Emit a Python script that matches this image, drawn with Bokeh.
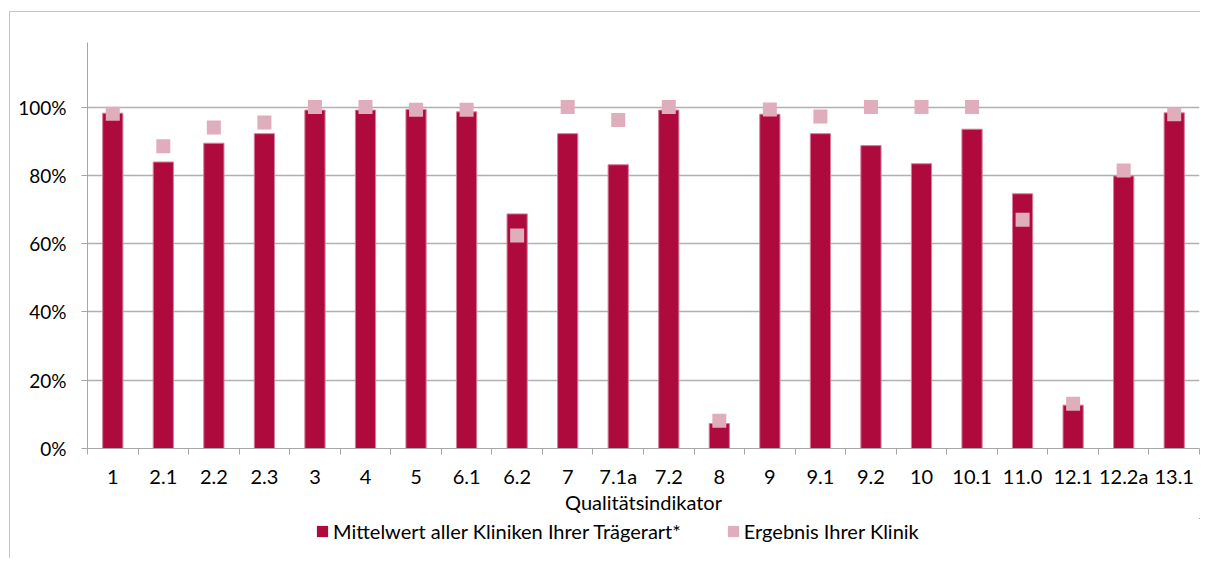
from bokeh.plotting import figure
from bokeh.layouts import column
from bokeh.models import (ColumnDataSource, Range1d, FixedTicker, NumeralTickFormatter,
                          Legend, LegendItem)
from bokeh.embed import file_html
from bokeh.resources import INLINE

categories = ["1", "2.1", "2.2", "2.3", "3", "4", "5", "6.1", "6.2", "7", "7.1a", "7.2",
              "8", "9", "9.1", "9.2", "10", "10.1", "11.0", "12.1", "12.2a", "13.1"]
mittelwert = [0.982, 0.839, 0.894, 0.922, 0.991, 0.991, 0.993, 0.986, 0.687, 0.922, 0.831, 0.991,
              0.073, 0.979, 0.922, 0.887, 0.834, 0.935, 0.746, 0.127, 0.798, 0.983]
ergebnis = [0.980, 0.885, 0.940, 0.955, 1.000, 1.000, 0.992, 0.992, 0.624, 1.000, 0.962, 1.000,
            0.081, 0.993, 0.972, 1.000, 1.000, 1.000, 0.670, 0.131, 0.814, 0.979]
y_ticks = [0.0, 0.2, 0.4, 0.6, 0.8, 1.0]
series_names = ["Mittelwert aller Kliniken Ihrer Trägerart*", "Ergebnis Ihrer Klinik"]
x_title = "Qualitätsindikator"

BAR = "#af0a3e"
PINK = "#e0adbd"
GRID = "#b0b0b0"
FONT = "Lato"
FS = "20px"

xs = list(range(1, len(categories) + 1))
src = ColumnDataSource(dict(x=xs, m=mittelwert, e=ergebnis))

p = figure(width=1190, height=506, output_backend="svg", toolbar_location=None,
           x_range=Range1d(0.5, len(categories) + 0.5), y_range=Range1d(0, 1.189),
           min_border_left=77, min_border_right=1, min_border_top=30, min_border_bottom=70)
p.outline_line_color = None
p.background_fill_color = "white"
p.border_fill_color = "white"

r_bar = p.vbar(x="x", top="m", width=0.4, source=src, fill_color=BAR,
               line_color="#d47e9a", line_width=1)
r_pt = p.scatter(x="x", y="e", marker="square", size=14, source=src,
                 fill_color=PINK, line_color=None)

# axes
xa = p.xaxis[0]
xa.ticker = FixedTicker(ticks=xs, minor_ticks=[i + 0.5 for i in range(0, len(categories) + 1)])
xa.major_label_overrides = {x: c for x, c in zip(xs, categories)}
xa.major_tick_line_color = None
xa.minor_tick_line_color = "#a6a6a6"
xa.minor_tick_in = 0
xa.minor_tick_out = 6
xa.axis_line_color = "#a6a6a6"
xa.major_label_text_font = FONT
xa.major_label_text_font_size = FS
xa.major_label_text_color = "black"
xa.major_label_standoff = 9
xa.axis_label = x_title
xa.axis_label_text_font = FONT
xa.axis_label_text_font_size = FS
xa.axis_label_text_font_style = "normal"
xa.axis_label_text_color = "black"
xa.axis_label_standoff = -1

ya = p.yaxis[0]
ya.ticker = FixedTicker(ticks=y_ticks)
ya.formatter = NumeralTickFormatter(format="0%")
ya.major_tick_in = 0
ya.major_tick_out = 6
ya.major_tick_line_color = "#a6a6a6"
ya.minor_tick_line_color = None
ya.axis_line_color = "#a6a6a6"
ya.major_label_text_font = FONT
ya.major_label_text_font_size = "19px"
ya.major_label_text_color = "black"
ya.major_label_standoff = 15

p.xgrid.grid_line_color = None
p.ygrid.ticker = FixedTicker(ticks=y_ticks)
p.ygrid.grid_line_color = GRID
p.ygrid.grid_line_width = 1.5

# legend strip below the chart (its own data lies outside its view; only the legend shows)
p2 = figure(width=1190, height=40, output_backend="svg", toolbar_location=None,
            x_range=Range1d(-2, -1), y_range=Range1d(-2, -1),
            min_border_left=0, min_border_right=0, min_border_top=0, min_border_bottom=0)
p2.outline_line_color = None
p2.axis.visible = False
p2.grid.visible = False
l1 = p2.vbar(x="x", top="m", width=0.4, source=src, fill_color=BAR, line_color=None)
l2 = p2.vbar(x="x", top="e", width=0.4, source=src, fill_color=PINK, line_color=None)
legend = Legend(items=[LegendItem(label=series_names[0], renderers=[l1]),
                       LegendItem(label=series_names[1], renderers=[l2])],
                location=(228, 15), orientation="horizontal",
                glyph_width=14, glyph_height=14, label_standoff=4, spacing=45,
                padding=0, margin=0, border_line_color=None, background_fill_alpha=0,
                label_text_font=FONT, label_text_font_size=FS, label_text_color="black")
p2.add_layout(legend, "center")

layout = column(p, p2, spacing=0)
layout.styles = {"border-left": "1px solid #c4c4c4", "border-top": "1px solid #c4c4c4",
                 "margin-top": "11px", "margin-left": "9px"}

open("out.html", "w").write(file_html(layout, INLINE))
